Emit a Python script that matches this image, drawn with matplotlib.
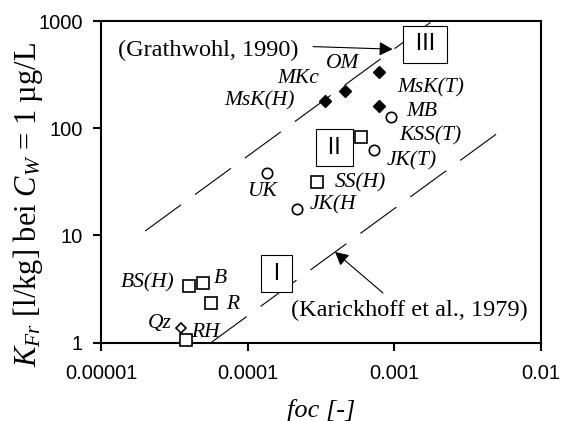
import matplotlib
matplotlib.use("Agg")
import matplotlib.pyplot as plt
import numpy as np
from matplotlib.ticker import FixedLocator, FixedFormatter, NullLocator

plt.rcParams['mathtext.fontset'] = 'custom'
plt.rcParams['mathtext.rm'] = 'Liberation Serif'
plt.rcParams['mathtext.it'] = 'Liberation Serif:italic'
plt.rcParams['lines.scale_dashes'] = False

# filled diamonds
diamond_labels = ['MsK(H)', 'MKc', 'OM', 'MsK(T)']
diamond_foc = [3.37e-4, 4.6e-4, 7.8e-4, 7.9e-4]
diamond_k = [181, 224, 333, 162]

# open circles
circle_labels = ['MB', 'JK(T)', 'UK', 'JK(H']
circle_foc = [9.5e-4, 7.3e-4, 1.36e-4, 2.16e-4]
circle_k = [127, 63, 38, 17.5]

# open squares
square_labels = ['KSS(T)', 'SS(H)', 'BS(H)', 'B', 'R', 'RH']
square_foc = [5.9e-4, 2.98e-4, 3.98e-5, 4.98e-5, 5.6e-5, 3.77e-5]
square_k = [82, 31.8, 3.38, 3.58, 2.33, 1.06]

# open diamond
quartz_labels = ['Qz']
quartz_foc = [3.5e-5]
quartz_k = [1.38]

# K_Fr = factor * foc
grathwohl_factor = 5.5e5
grathwohl_foc = [2.0e-5, 1.82e-3]
karickhoff_factor = 1.78e4
karickhoff_foc = [5.6e-5, 5.2e-3]

x_ticks = [1e-5, 1e-4, 1e-3, 1e-2]
x_ticklabels = ['0.00001', '0.0001', '0.001', '0.01']
y_ticks = [1, 10, 100, 1000]
y_ticklabels = ['1', '10', '100', '1000']

# label offsets (points) from the marker
offsets = {
    'MsK(H)': (-47, -0.5), 'MKc': (-34, 9), 'OM': (-26, 6.5), 'MsK(T)': (37, 13),
    'MB': (22, 4), 'JK(T)': (27, -8), 'UK': (-3.5, -13), 'JK(H': (26, 3.5),
    'KSS(T)': (50, 1.5), 'SS(H)': (31, -0.7), 'BS(H)': (-29.5, 2), 'B': (12, 3.6),
    'R': (16, -0.5), 'RH': (14, 5.5), 'Qz': (-15, 2.7),
}

serif = 'Liberation Serif'
sans = 'Liberation Sans'

fig = plt.figure(figsize=(5.63, 4.21), dpi=100)
ax = fig.add_axes([101 / 563, 1 - 342.7 / 421, 440 / 563, 321.7 / 421])
ax.set_xscale('log')
ax.set_yscale('log')
ax.set_xlim(1e-5, 1e-2)
ax.set_ylim(1, 1000)

# the two reference lines
for foc, factor in [(grathwohl_foc, grathwohl_factor), (karickhoff_foc, karickhoff_factor)]:
    foc = np.array(foc)
    ax.plot(foc, factor * foc, color='black', lw=0.8, dashes=(32, 12.5), zorder=2)

ax.plot(diamond_foc, diamond_k, 'D', ms=6.5, mfc='black', mec='black', zorder=4, clip_on=False)
ax.plot(circle_foc, circle_k, 'o', ms=7.5, mfc='white', mec='black', mew=1.2, zorder=4, clip_on=False)
ax.plot(square_foc, square_k, 's', ms=8.3, mfc='white', mec='black', mew=1.2, zorder=4, clip_on=False)
ax.plot(quartz_foc, quartz_k, 'D', ms=5.5, mfc='white', mec='black', mew=1.2, zorder=4, clip_on=False)

for labels, focs, ks in [(diamond_labels, diamond_foc, diamond_k),
                         (circle_labels, circle_foc, circle_k),
                         (square_labels, square_foc, square_k),
                         (quartz_labels, quartz_foc, quartz_k)]:
    for lab, f, k in zip(labels, focs, ks):
        ax.annotate(lab, (f, k), xytext=offsets[lab], textcoords='offset points',
                    ha='center', va='center', fontsize=15.5, style='italic',
                    family=serif, zorder=5)

# region boxes
box = dict(boxstyle='square,pad=0.32', fc='white', ec='black', lw=0.8)
ax.text(1.62e-3, 605, '\u2009III\u2009', fontsize=17, family=sans, ha='center', va='center', bbox=box, zorder=3)
ax.text(3.91e-4, 66, '\u2009II\u2009', fontsize=17, family=sans, ha='center', va='center', bbox=box, zorder=3)
ax.text(1.58e-4, 4.4, '\u2009I\u2009', fontsize=17, family=sans, ha='center', va='center', bbox=box, zorder=3)

# literature annotations
arrow = dict(arrowstyle='-|>,head_length=0.4,head_width=0.21', color='black',
             lw=0.8, mutation_scale=20, shrinkA=0, shrinkB=0)
ax.text(5.36e-5, 530, '(Grathwohl, 1990)', fontsize=17.5, family=serif, ha='center', va='center')
ax.annotate('', xy=(9.72e-4, 546), xytext=(2.79e-4, 577), arrowprops=arrow)
ax.text(1.27e-3, 1.98, '(Karickhoff et al., 1979)', fontsize=17.5, family=serif, ha='center', va='center')
ax.annotate('', xy=(3.94e-4, 7.02), xytext=(8.36e-4, 2.91), arrowprops=arrow)

ax.xaxis.set_major_locator(FixedLocator(x_ticks))
ax.xaxis.set_major_formatter(FixedFormatter(x_ticklabels))
ax.xaxis.set_minor_locator(NullLocator())
ax.yaxis.set_major_locator(FixedLocator(y_ticks))
ax.yaxis.set_major_formatter(FixedFormatter(y_ticklabels))
ax.yaxis.set_minor_locator(NullLocator())

for s in ax.spines.values():
    s.set_linewidth(1.5)
ax.tick_params(axis='both', direction='out', length=6, width=1.5, labelsize=14.5)
ax.tick_params(axis='x', pad=9)
ax.tick_params(axis='y', pad=7)
for t in ax.get_xticklabels() + ax.get_yticklabels():
    t.set_family(sans)

ax.set_ylabel(r'$K_{Fr}$ [l/kg] bei $C_W$ = 1 µg/L', fontsize=22, family=serif)
ax.yaxis.set_label_coords(-0.127, 0.428)
ax.set_xlabel('foc [-]', fontsize=19, style='italic', family=serif, labelpad=12)

fig.savefig('out.png', dpi=100)
